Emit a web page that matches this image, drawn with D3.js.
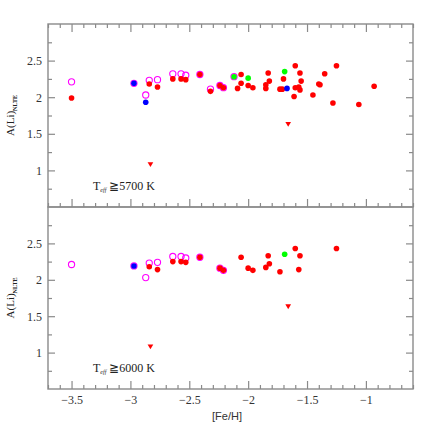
<!DOCTYPE html>
<html>
<head>
<meta charset="utf-8">
<script src="https://cdn.jsdelivr.net/npm/d3@7"></script>
<style>
  body { margin: 0; background: #fff; }
  svg { display: block; }
</style>
</head>
<body>
<div class="chart"></div>
<script>
// 数据：[Fe/H], A(Li), hot = 1 表示 Teff >= 6000 K（下图也画）
const redFeH = [-3.50, -2.84, -2.77, -2.64, -2.57, -2.53, -2.41, -2.32, -2.24, -2.21, -2.06, -2.06, -2.09, -2.00, -1.96,
  -1.85, -1.85, -1.83, -1.82, -1.70, -1.73, -1.71, -1.60, -1.56, -1.55, -1.60, -1.57, -1.56, -1.61, -1.45,
  -1.40, -1.39, -1.35, -1.25, -1.28, -1.06, -0.93]
const redALi = [1.99, 2.18, 2.14, 2.25, 2.25, 2.24, 2.31, 2.08, 2.16, 2.13, 2.31, 2.19, 2.12, 2.16, 2.13,
  2.17, 2.12, 2.33, 2.22, 2.25, 2.11, 2.11, 2.43, 2.33, 2.22, 2.13, 2.14, 2.10, 2.01, 2.03,
  2.18, 2.17, 2.32, 2.43, 1.92, 1.90, 2.15]
const redHot = [0, 1, 1, 1, 1, 1, 1, 0, 1, 1, 1, 0, 0, 1, 1,
  1, 0, 1, 1, 0, 1, 0, 1, 1, 0, 0, 1, 0, 0, 0,
  0, 0, 0, 1, 0, 0, 0]

const openFeH = [-3.50, -2.97, -2.87, -2.84, -2.77, -2.64, -2.57, -2.53, -2.41, -2.32, -2.24, -2.21, -2.12]
const openALi = [2.21, 2.19, 2.03, 2.23, 2.24, 2.32, 2.32, 2.30, 2.31, 2.11, 2.16, 2.13, 2.28]
const openHot = [1, 1, 1, 1, 1, 1, 1, 1, 1, 0, 1, 1, 0]

const blueFeH = [-2.97, -2.87, -1.67]
const blueALi = [2.19, 1.93, 2.12]
const blueHot = [1, 0, 0]

const greenFeH = [-2.12, -2.00, -1.69]
const greenALi = [2.28, 2.26, 2.35]
const greenHot = [0, 0, 1]

// 上限（倒三角）
const limFeH = [-2.83, -1.66]
const limALi = [1.09, 1.64]
const limHot = [1, 1]

const xMajor = [-3.5, -3, -2.5, -2, -1.5, -1]
const yMajor = [1, 1.5, 2, 2.5]
const panelLabels = ["5700", "6000"]

const width = 436
const height = 436
const left = 48, right = 413
const panelTop = [24, 207]
const panelBottom = [207, 389]

const svg = d3.select(".chart").append("svg")
  .attr("width", width)
  .attr("height", height)

const x = d3.scaleLinear().domain([-3.7, -0.6]).range([left, right])

const xMinor = d3.range(-3.7, -0.6 + 1e-9, 0.1).map(v => +v.toFixed(1))
  .filter(v => !xMajor.some(m => Math.abs(m - v) < 1e-6))
const yMinor = [0.75, 1.25, 1.75, 2.25, 2.75]

const fmt = d => String(d).replace("-", "\u2212")
const frameColor = "#8a8a8a"

function pack(fx, fy, fh, panel) {
  return fx.map((v, i) => ({ x: v, y: fy[i], hot: fh[i] }))
    .filter(d => panel === 0 || d.hot === 1)
}

panelTop.forEach(function (top, p) {
  const bottom = panelBottom[p]
  const y = d3.scaleLinear().domain([0.5, 3]).range([bottom, top])
  const g = svg.append("g")

  // 刻度
  function tickAxis(axisFn, scale, vals, size, pos, labels) {
    const a = axisFn(scale).tickValues(vals).tickSizeInner(-size).tickSizeOuter(0)
      .tickPadding(labels ? 6 : 0)
      .tickFormat(labels ? fmt : "")
    const ag = g.append("g").attr("transform", pos).call(a)
    ag.select(".domain").remove()
    ag.selectAll(".tick line").attr("stroke", frameColor).attr("stroke-width", 1.2)
    ag.selectAll("text")
      .attr("fill", "#333")
      .attr("font-family", "'Liberation Serif', 'DejaVu Serif', serif")
      .attr("font-size", "12px")
    return ag
  }

  const isBottom = p === 1
  // x 轴
  if (!isBottom) {
    tickAxis(d3.axisTop, x, xMajor, 8, `translate(0,${top})`, false)
    tickAxis(d3.axisTop, x, xMinor, 4, `translate(0,${top})`, false)
  }
  tickAxis(d3.axisBottom, x, xMajor, 8, `translate(0,${bottom})`, isBottom)
  tickAxis(d3.axisBottom, x, xMinor, 4, `translate(0,${bottom})`, false)
  // y 轴
  tickAxis(d3.axisLeft, y, yMajor, 7, `translate(${left},0)`, true)
  tickAxis(d3.axisLeft, y, yMinor, 4, `translate(${left},0)`, false)
  tickAxis(d3.axisRight, y, yMajor, 7, `translate(${right},0)`, false)
  tickAxis(d3.axisRight, y, yMinor, 4, `translate(${right},0)`, false)

  // 边框
  g.append("rect")
    .attr("x", left).attr("y", top)
    .attr("width", right - left).attr("height", bottom - top)
    .attr("fill", "none")
    .attr("stroke", frameColor)
    .attr("stroke-width", 1.4)

  // 空心圆（品红）
  g.selectAll(".open")
    .data(pack(openFeH, openALi, openHot, p))
    .enter().append("circle")
    .attr("cx", d => x(d.x)).attr("cy", d => y(d.y))
    .attr("r", 3.1)
    .attr("fill", "none")
    .attr("stroke", "#ff00ff")
    .attr("stroke-width", 1.1)

  function dots(fx, fy, fh, color) {
    g.selectAll(null)
      .data(pack(fx, fy, fh, p))
      .enter().append("circle")
      .attr("cx", d => x(d.x)).attr("cy", d => y(d.y))
      .attr("r", 2.8)
      .attr("fill", color)
  }
  dots(redFeH, redALi, redHot, "#ff0000")
  dots(blueFeH, blueALi, blueHot, "#0000ff")
  dots(greenFeH, greenALi, greenHot, "#00ff00")

  // 上限
  g.selectAll(null)
    .data(pack(limFeH, limALi, limHot, p))
    .enter().append("path")
    .attr("d", d3.symbol().type(d3.symbolTriangle).size(14))
    .attr("transform", d => `translate(${x(d.x)},${y(d.y)}) rotate(180)`)
    .attr("fill", "#ff0000")

  // y 轴标题
  const yl = g.append("text")
    .attr("transform", `translate(14,${(top + bottom) / 2}) rotate(-90)`)
    .attr("text-anchor", "middle")
    .attr("font-family", "'Liberation Serif', serif")
    .attr("font-size", "11px")
    .attr("fill", "#222")
  yl.append("tspan").text("A(Li)")
  yl.append("tspan").attr("dy", 3).attr("font-size", "6px").attr("font-weight", "bold").text("NLTE")

  // 温度标注
  const tl = g.append("text")
    .attr("x", 93)
    .attr("y", bottom - 17)
    .attr("font-family", "'Liberation Serif', serif")
    .attr("font-size", "12px")
    .attr("fill", "#222")
  tl.append("tspan").text("T")
  tl.append("tspan").attr("dy", 2).attr("font-size", "6px").attr("font-style", "italic").text("eff")
  tl.append("tspan").attr("dy", -2).text(" \u2267" + panelLabels[p] + "  K")
})

// x 轴标题
svg.append("text")
  .attr("x", 227)
  .attr("y", 420)
  .attr("text-anchor", "middle")
  .attr("font-family", "'Liberation Sans', Arial, sans-serif")
  .attr("font-size", "11px")
  .attr("fill", "#333")
  .text("[Fe/H]")
</script>
</body>
</html>
